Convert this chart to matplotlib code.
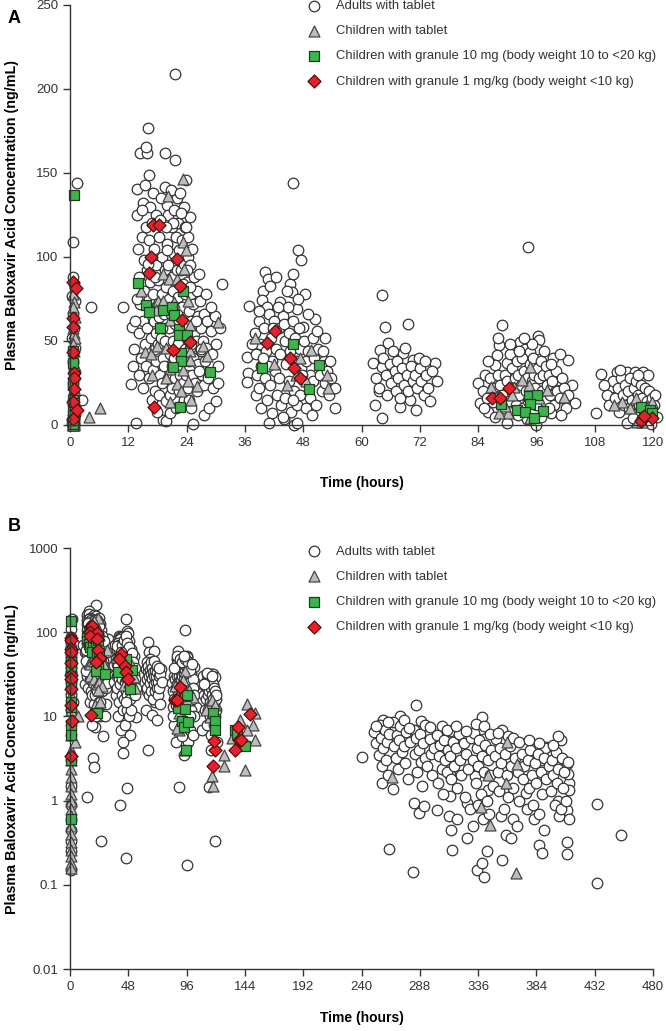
import matplotlib
matplotlib.use("Agg")
import matplotlib.pyplot as plt
from matplotlib.ticker import FixedLocator, NullLocator
import numpy as np

plt.rcParams['font.family'] = ['Liberation Sans', 'DejaVu Sans']

# (time h, plasma baloxavir acid ng/mL)
adult_0h = [(1.5, 143.9), (0.7, 108.9), (0.6, 88), (0.9, 84), (0.5, 77), (1.0, 74), (0.7, 66),
            (0.8, 58), (0.5, 52), (1.1, 46), (0.6, 38), (0.9, 33), (0.7, 25), (2.4, 15), (0.8, 18),
            (0.6, 12), (1.0, 6), (0.5, 3), (0.8, 1.5), (0.6, 0.9), (0.7, 0.6), (0.9, 0.45),
            (0.5, 0.33), (0.8, 0.25), (0.6, 0.15), (4.4, 70)]
adult_day1 = [(21.6, 208.8), (16.0, 177), (14.4, 161.7), (15.9, 161.7), (15.6, 165.7), (19.6, 162),
              (21.6, 158), (16.3, 148.9), (23.9, 146), (13.7, 140.5), (15.5, 143), (19.6, 141.5),
              (22.0, 135), (19.9, 131), (23.5, 130), (24.7, 124), (13.7, 125), (14.8, 112), (31.2, 84),
              (11.0, 70.3), (12.5, 24.3), (12.7, 58.4), (13.6, 1.1), (25.3, 0.33), (19.2, 3.2),
              (19.8, 2.5), (20.6, 7.4), (27.5, 5.8),
              (14.0, 105), (14.2, 88), (14.5, 72), (14.3, 55), (14.6, 40), (14.1, 30), (15.0, 132),
              (15.2, 98), (15.3, 80), (15.1, 62), (15.4, 48), (15.0, 22), (15.7, 118), (15.8, 92),
              (15.9, 58), (15.6, 35), (16.4, 130), (16.2, 110), (16.5, 85), (16.3, 75), (16.6, 52),
              (16.2, 28), (16.8, 15), (17.0, 138), (17.2, 105), (17.1, 78), (17.3, 62), (17.4, 45),
              (17.0, 33), (17.5, 20), (17.8, 125), (17.7, 95), (17.9, 70), (17.6, 55), (17.8, 38),
              (18.3, 112), (18.1, 86), (18.4, 64), (18.2, 48), (18.5, 30), (18.3, 18), (18.8, 135),
              (18.9, 100), (19.0, 78), (18.7, 52), (19.1, 40), (18.9, 25), (19.4, 122), (19.5, 92),
              (19.3, 66), (19.6, 50), (19.4, 35), (19.7, 14), (19.9, 108), (19.8, 82), (20.2, 125),
              (20.1, 95), (20.4, 75), (20.3, 58), (20.5, 42), (20.2, 28), (20.6, 18), (20.9, 118),
              (21.0, 88), (20.8, 66), (21.1, 50), (20.9, 35), (21.0, 22), (21.5, 128), (21.4, 102),
              (21.3, 80), (21.6, 60), (21.4, 40), (21.7, 28), (21.9, 112), (22.0, 92), (21.8, 72),
              (22.2, 120), (22.4, 104), (22.3, 76), (22.5, 62), (22.2, 48), (22.6, 30), (22.4, 20),
              (22.9, 126), (23.0, 110), (22.8, 92), (23.1, 70), (23.0, 55), (22.9, 40), (23.2, 25),
              (23.0, 12), (23.6, 118), (23.5, 96), (23.7, 78), (23.4, 60), (23.6, 45), (23.8, 30),
              (23.5, 15), (24.2, 112), (24.3, 100), (24.1, 85), (24.4, 68), (24.2, 52), (24.5, 38),
              (24.3, 22), (24.8, 95), (24.9, 78), (25.0, 62), (24.7, 46), (25.1, 30), (24.9, 10),
              (25.5, 88), (25.4, 72), (25.6, 55), (25.3, 40), (25.7, 25), (26.1, 80), (26.3, 65),
              (26.0, 50), (26.4, 36), (26.2, 20), (26.8, 74), (27.0, 58), (26.9, 44), (27.2, 30),
              (27.6, 66), (27.4, 50), (27.8, 38), (27.5, 24), (28.2, 62), (28.0, 46), (28.4, 28),
              (28.6, 10), (29.0, 56), (29.2, 42), (29.5, 22), (29.8, 65), (30.1, 48), (30.4, 35),
              (30.0, 14), (30.8, 58), (30.5, 25),
              (13.2, 45), (13.4, 62), (13.8, 75), (13.0, 35), (14.8, 128), (16.9, 120), (18.6, 122),
              (19.0, 58), (20.0, 104), (20.7, 140), (21.2, 120), (22.6, 138), (23.2, 84), (24.0, 92),
              (24.6, 82), (25.9, 62), (25.2, 105), (26.5, 90), (27.0, 45), (29.0, 70), (28.0, 78),
              (18.0, 8), (21.8, 10), (16.0, 96), (17.4, 88), (19.8, 118), (22.0, 66), (23.8, 118),
              (25.0, 48), (26.6, 32), (24.5, 15)]
adult_day2 = [(45.8, 143.9), (47.0, 104), (47.5, 98), (40.1, 91), (40.8, 87), (42.5, 88), (39.7, 80),
              (41.2, 83), (45.3, 84), (45.6, 79), (48.4, 78), (36.9, 70.7), (39.5, 74.6), (40.5, 70),
              (43.2, 73), (46.7, 69), (43.9, 65), (50.4, 63), (48.0, 58.4), (52.5, 52), (36.4, 40.6),
              (36.7, 30.7), (36.5, 25.7), (54.5, 9.9), (41.0, 0.9), (46.2, 0.21), (46.7, 1.4),
              (44.0, 3.7),
              (38.0, 55), (38.3, 42), (38.5, 30), (38.2, 18), (39.0, 62), (39.2, 48), (39.4, 35),
              (39.0, 22), (39.3, 10), (40.0, 58), (40.3, 44), (40.1, 28), (40.5, 15), (41.0, 66),
              (41.3, 52), (41.5, 38), (41.2, 24), (41.6, 7), (42.0, 62), (42.4, 45), (42.2, 32),
              (42.6, 18), (43.0, 58), (43.3, 42), (43.1, 28), (43.5, 12), (44.0, 60), (44.3, 50),
              (44.5, 36), (44.2, 16), (44.8, 70), (45.0, 55), (45.2, 44), (45.0, 26), (45.4, 8),
              (46.0, 62), (46.3, 52), (46.5, 38), (46.2, 20), (46.8, 12), (47.2, 58), (47.4, 45),
              (47.6, 34), (47.3, 18), (48.2, 50), (48.5, 38), (48.3, 26), (48.6, 10), (49.0, 44),
              (49.3, 30), (49.5, 16), (50.0, 52), (50.3, 40), (50.1, 26), (50.6, 12), (51.0, 45),
              (51.5, 30), (51.8, 20), (52.2, 38), (52.5, 25), (53.0, 32), (53.4, 18), (53.8, 28),
              (54.5, 22),
              (37.5, 48), (38.8, 68), (40.8, 35), (42.8, 70), (44.6, 80), (46.0, 90), (47.0, 75),
              (48.9, 66), (50.8, 56), (52.0, 44), (53.6, 38), (49.8, 6), (43.8, 5), (45.8, 15),
              (47.8, 30), (39.8, 40), (41.8, 58)]
adult_day3 = [(64.2, 77.2), (64.8, 58.4), (69.5, 60), (62.4, 37), (64.2, 34.6), (65.5, 48.5),
              (63.8, 44.5), (68.6, 42.6), (70.7, 38.6), (75.1, 37), (64.2, 4), (62.8, 11.9),
              (63.5, 20), (67.9, 10.5), (71.3, 9.1), (70.0, 15),
              (63.0, 28), (63.6, 22), (64.5, 40), (65.0, 30), (65.3, 18), (65.8, 36), (66.0, 25),
              (66.4, 44), (66.8, 32), (67.0, 20), (67.3, 38), (67.6, 28), (68.0, 16), (68.3, 34),
              (68.8, 24), (69.0, 46), (69.3, 30), (69.6, 20), (70.2, 35), (70.5, 26), (71.0, 30),
              (71.5, 22), (72.0, 34), (72.3, 26), (72.8, 18), (73.2, 30), (73.6, 22), (74.0, 14),
              (74.5, 32), (75.5, 26), (71.8, 40), (73.0, 38)]
adult_day4 = [(94.3, 106), (89.0, 59.4), (96.4, 52.8), (96.5, 50.5), (96.1, 45.5), (92.6, 49.5),
              (93.7, 45.5), (91.6, 43.5), (94.7, 43.5), (88.2, 47.5), (87.8, 41.6), (89.9, 36.6),
              (87.5, 35.6), (99.5, 39.6), (102.4, 38.6), (100.5, 26.7), (103.3, 23.8), (104.0, 12.9),
              (84.0, 25), (84.4, 12.9), (87.0, 13.8), (90.0, 1.47), (96.0, 0.17),
              (85.0, 20), (85.5, 30), (85.8, 16), (86.0, 8), (86.5, 28), (87.0, 22), (87.5, 5),
              (88.0, 30), (88.5, 24), (89.0, 18), (89.3, 10), (89.5, 30), (90.0, 26), (90.3, 14),
              (90.6, 42), (91.0, 34), (91.2, 20), (91.5, 28), (91.8, 12), (92.0, 38), (92.3, 30),
              (92.5, 18), (92.8, 24), (93.0, 40), (93.2, 10), (93.5, 32), (93.8, 20), (94.0, 28),
              (94.2, 14), (94.6, 36), (95.0, 26), (95.2, 40), (95.5, 30), (95.8, 22), (96.0, 12),
              (96.3, 34), (96.6, 28), (96.9, 38), (97.1, 20), (97.4, 30), (97.8, 14), (98.0, 35),
              (98.2, 24), (98.6, 30), (98.9, 18), (99.2, 26), (99.6, 12), (100.0, 32), (100.3, 20),
              (100.8, 16), (101.2, 28), (101.6, 22), (102.0, 10), (102.5, 18), (97.0, 5), (94.0, 3.5),
              (92.2, 5.8), (99.0, 7),
              (86.0, 38), (88.0, 52), (90.5, 48), (92.5, 44), (95.0, 48), (97.5, 44), (99.0, 36),
              (100.8, 42), (85.2, 10), (93.5, 52), (98.5, 10), (101.0, 6)]
adult_day5 = [(109.3, 30.3), (111.5, 22.7), (112.5, 31.7), (114.6, 31.7), (116.3, 31.7), (118.0, 31.7),
              (119.0, 29.7), (108.3, 6.9), (114.6, 1.44), (119.6, 0.33),
              (110.5, 18), (111.0, 12), (111.8, 26), (112.2, 16), (112.8, 22), (113.0, 8), (113.4, 28),
              (113.8, 18), (114.0, 12), (114.3, 24), (114.8, 20), (115.0, 10), (115.3, 28), (115.6, 15),
              (116.0, 22), (116.2, 6), (116.6, 26), (116.9, 18), (117.2, 12), (117.5, 24), (117.8, 16),
              (118.2, 8), (118.4, 22), (118.8, 14), (119.2, 20), (119.5, 10), (119.8, 16), (120.2, 12),
              (120.5, 18), (120.8, 5), (110.0, 24), (113.2, 33), (117.0, 30), (115.8, 4)]
adult_late = [(240, 3.28), (284.8, 13.6), (258, 9.2), (271.4, 10.1), (288.7, 8.8), (306.5, 7.7),
              (339.5, 9.8), (356, 6.9), (404, 5.2), (382.7, 4.5), (392, 4.3), (434, 0.91), (453.6, 0.39),
              (262.5, 0.27), (314.8, 0.26), (326.6, 0.95), (335.4, 0.15), (340.6, 0.125), (339, 0.18),
              (343.4, 0.25), (282, 0.144), (356, 0.2), (386.5, 0.3), (388.6, 0.24), (409.5, 0.32),
              (409.5, 0.235), (434, 0.106), (313.7, 0.45), (326.6, 0.36), (359, 0.39), (363, 0.36),
              (390.6, 0.45), (382, 0.6), (364.5, 0.6), (287.5, 0.72), (302, 0.78), (403, 0.65),
              (409, 0.78), (344.5, 1.35), (332, 0.5), (312, 0.65), (319, 0.6), (354.6, 0.65),
              (313, 1.13), (283, 0.95), (291.7, 0.86), (410.6, 1.6), (401.7, 1.0), (375.6, 1.24),
              (370, 1.0), (266, 1.39), (256.8, 1.6), (333.7, 1.95), (312.6, 2.04), (312.6, 6.8),
              (338, 7.1), (361, 5.9), (391, 4.2), (387.6, 3.0), (409, 2.7), (411, 1.35), (409.6, 2.1),
              (250, 6.5), (252, 4.8), (254, 3.5), (255, 8.0), (256, 5.5), (257, 2.6), (258, 4.2),
              (259, 7.0), (260, 3.0), (261, 5.0), (262, 2.0), (263, 6.2), (266, 8.5), (267, 4.5),
              (268, 3.2), (269, 6.0), (270, 2.4), (271, 5.2), (272, 7.6), (273, 3.8), (275, 4.4),
              (276, 2.8), (277, 6.6), (278, 1.8), (280, 5.0), (283, 7.0), (284, 3.6), (285, 5.6),
              (286, 2.2), (287, 4.0), (288, 6.2), (289, 2.9), (290, 1.5), (291, 4.8), (292, 3.2),
              (294, 2.6), (296, 5.4), (297, 3.6), (298, 2.0), (300, 4.2), (302, 6.0), (303, 1.6),
              (304, 3.4), (305, 4.6), (306, 2.4), (307, 1.2), (308, 5.2), (309, 3.0), (310, 2.2),
              (311, 4.0), (313, 3.4), (314, 1.8), (315, 5.0), (316, 2.6), (318, 4.2), (319, 1.4),
              (320, 6.2), (321, 3.0), (322, 2.0), (324, 4.8), (325, 1.1), (326, 3.6), (328, 2.4),
              (329, 0.8), (330, 5.6), (332, 3.0), (333, 6.4), (334, 1.6), (335, 4.2), (336, 2.6),
              (336, 0.9), (337, 5.2), (338, 1.2), (339, 3.4), (340, 0.6), (341, 2.2), (342, 4.6),
              (343, 1.0), (344, 3.0), (345, 0.7), (346, 2.0), (347, 4.0), (348, 1.5), (350, 3.4),
              (351, 5.4), (352, 2.2), (353, 1.3), (354, 4.2), (355, 2.8), (357, 0.8), (358, 3.6),
              (360, 2.0), (361, 1.1), (362, 4.4), (363, 2.6), (365, 1.4), (366, 3.2), (368, 0.5),
              (369, 2.2), (372, 3.6), (373, 1.8), (374, 2.6), (376, 0.8), (377, 3.0), (378, 1.4),
              (379, 4.0), (380, 2.0), (381, 0.9), (383, 2.8), (384, 1.6), (385, 3.6), (386, 0.7),
              (388, 2.2), (389, 1.2), (390, 3.2), (392, 1.8), (394, 2.6), (396, 1.3), (397, 3.0),
              (398, 2.0), (399, 0.9), (400, 3.8), (401, 1.6), (402, 2.4), (404, 0.8), (405, 3.2),
              (406, 1.4), (407, 2.2), (408, 1.0), (410, 2.9), (411, 0.6),
              (252, 7.8), (262, 8.6), (275, 9.0), (279, 7.2), (292, 8.0), (296, 7.4), (310, 7.0),
              (318, 7.8), (326, 6.8), (334, 8.2), (341, 7.6), (346, 6.2), (352, 6.4), (365, 5.6),
              (370, 5.0), (378, 5.2), (386, 4.8), (398, 4.6), (402, 5.8)]

child_tab = [(0.6, 78), (0.9, 73), (0.7, 70), (1.0, 64), (0.6, 58), (0.8, 55), (1.1, 52), (0.7, 48),
             (0.9, 44), (0.6, 40), (1.0, 35), (0.8, 30), (0.7, 26), (0.9, 22), (0.6, 18), (1.0, 14),
             (0.8, 12), (0.7, 9), (0.9, 6), (0.6, 4), (0.8, 3), (0.7, 2.4), (0.9, 1.9), (0.6, 1.5),
             (0.8, 1.2), (0.7, 1.0), (0.9, 0.8), (0.6, 0.65), (0.8, 0.5), (0.7, 0.4), (0.6, 0.32),
             (0.8, 0.26), (0.7, 0.22), (0.6, 0.18), (0.7, 0.16), (4.0, 5), (6.2, 10),
             (23.3, 146.5), (20.1, 136), (14.6, 80), (23.3, 109), (23.8, 104), (23.5, 93), (19.2, 90),
             (20.4, 87), (22.0, 87), (18.2, 74), (19.2, 74), (21.5, 73), (24.2, 74), (17.6, 68.7),
             (20.6, 62.7), (24.6, 59.8), (30.5, 61), (15.4, 43.5), (16.7, 42.5), (18.0, 47), (19.7, 46),
             (24.8, 44), (27.4, 47), (28.1, 41), (24.7, 38.5), (20.6, 33.5), (23.3, 32.7), (16.8, 30),
             (19.8, 27.8), (22.1, 24.4), (24.2, 26), (26.2, 23), (22.8, 20.5), (20.6, 13.5), (25.0, 15),
             (38.1, 51.5), (49.7, 44.5), (47.4, 40), (53.0, 29.7), (44.6, 23.8), (53.2, 21.8),
             (46.5, 30), (42.0, 36), (48.5, 26),
             (86.6, 22.7), (90.1, 6.9), (88.3, 7.3), (91.3, 22.7), (94.7, 34.6), (94.4, 23.8),
             (98.2, 20.8), (101.6, 16.8), (91.0, 17.8), (94.6, 4.0), (96.6, 15.8), (93.0, 27), (89.5, 11),
             (113.6, 13.8), (115.3, 9.9), (116.6, 15.8), (119.7, 13.8), (116.8, 1.95), (117.7, 1.48),
             (112.0, 12), (118.5, 11),
             (145.7, 13.9), (152.6, 11), (151.0, 8), (152.6, 5.3), (145.7, 7), (127.0, 3.5), (126.5, 2.6),
             (144.3, 2.3), (140.0, 9), (133.0, 5.5),
             (265, 1.9), (338, 0.85), (344, 2.0), (346, 0.52), (359, 1.6), (360, 5.0), (368, 2.7),
             (367, 0.14)]

child_gran10 = [(0.8, 137), (0.7, 44), (0.6, 37), (0.8, 30), (0.7, 25), (0.6, 15), (0.8, 13), (0.7, 8),
                (0.6, 6), (0.8, 3), (0.7, 0.6),
                (13.9, 84.7), (15.6, 71.6), (16.3, 67.3), (19.1, 68.7), (21.0, 70.3), (21.5, 65.3),
                (18.5, 58), (22.4, 57), (22.4, 53.4), (24.1, 53.4), (22.8, 42.6), (22.8, 38), (21.3, 34.3),
                (28.8, 31.7), (22.6, 10.9), (23.3, 80),
                (45.8, 48), (39.6, 33.7), (51.3, 35.6), (49.2, 21.2),
                (88.7, 12.5), (94.5, 17.4), (96.2, 17.8), (94.7, 12.3), (92.0, 8.9), (93.7, 7.5),
                (97.4, 8.5), (95.6, 4),
                (117.5, 10.9), (119.4, 8.9), (119.7, 6.9),
                (136.0, 7), (137.5, 6.2), (144.3, 4.5)]

child_gran1 = [(0.7, 85), (1.2, 81.5), (0.7, 63.7), (0.7, 58.4), (0.7, 43.5), (0.8, 30.7), (0.8, 27.8),
               (0.8, 21.4), (0.7, 13.5), (1.4, 8.9), (0.6, 3.4),
               (17.1, 119), (18.4, 119), (16.6, 100), (22.0, 98.6), (16.3, 90.7), (22.6, 82.7),
               (23.1, 62.3), (24.6, 49.5), (21.3, 44.5), (17.3, 10.5),
               (42.2, 55.8), (40.6, 48.5), (45.3, 40), (46.1, 33.7), (47.4, 27.7),
               (86.8, 15.8), (88.5, 15.8), (90.4, 22.1),
               (117.5, 2.6), (119.7, 4.0), (118.2, 5.1),
               (136.0, 4.0), (138.3, 7.5), (138.8, 5.3), (141.0, 5.3), (148.5, 10.6)]

labels = ['Adults with tablet', 'Children with tablet',
          'Children with granule 10 mg (body weight 10 to <20 kg)',
          'Children with granule 1 mg/kg (body weight <10 kg)']

adults = np.array(adult_0h + adult_day1 + adult_day2 + adult_day3 + adult_day4 + adult_day5 + adult_late)
groups = [
    (adults, dict(marker='o', s=58, facecolor='white', edgecolor='#333333')),
    (np.array(child_tab), dict(marker='^', s=62, facecolor='#bdbdbd', edgecolor='#444444')),
    (np.array(child_gran10), dict(marker='s', s=48, facecolor='#3db54a', edgecolor='#1f3d22')),
    (np.array(child_gran1), dict(marker='D', s=44, facecolor='#e8202a', edgecolor='#4a1010')),
]

fig = plt.figure(figsize=(6.66, 10.31), dpi=100)
axA = fig.add_axes([0.1051, 0.5878, 0.8754, 0.4074])
axB = fig.add_axes([0.1051, 0.0601, 0.8754, 0.4083])

for ax, tmax in [(axA, 121), (axB, 480)]:
    for (data, style), lab in zip(groups, labels):
        keep = data[:, 0] <= tmax
        ax.scatter(data[keep, 0], data[keep, 1], linewidths=0.9, clip_on=False, label=lab, **style)
    for side in ['top', 'right']:
        ax.spines[side].set_visible(False)
    for side in ['left', 'bottom']:
        ax.spines[side].set_color('#333333')
        ax.spines[side].set_linewidth(1.0)
    ax.tick_params(direction='out', length=5, width=1, color='#333333', labelcolor='#333333',
                   labelsize=9.5)
    ax.set_ylabel('Plasma Baloxavir Acid Concentration (ng/mL)', fontsize=10.3, fontweight='bold')
    ax.set_xlabel('Time (hours)', fontsize=10, fontweight='bold')
    ax.yaxis.set_label_coords(-0.088, 0.5)

axA.set_xlim(0, 120)
axA.set_ylim(0, 250)
axA.set_xticks(np.arange(0, 121, 12))
axA.set_yticks(np.arange(0, 251, 50))
axA.xaxis.set_label_coords(0.5, -0.122)

axB.set_yscale('log')
axB.set_xlim(0, 480)
axB.set_ylim(0.01, 1000)
axB.set_xticks(np.arange(0, 481, 48))
axB.yaxis.set_major_locator(FixedLocator([0.01, 0.1, 1, 10, 100, 1000]))
axB.yaxis.set_minor_locator(NullLocator())
axB.set_yticklabels(['0.01', '0.1', '1', '10', '100', '1000'])
axB.xaxis.set_label_coords(0.5, -0.1)

for ax, top in [(axA, 1.012), (axB, 1.006)]:
    ax.legend(loc='upper left', bbox_to_anchor=(0.408, top), frameon=False, fontsize=9.4,
              handlelength=0.9, handletextpad=1.25, labelspacing=1.0, borderpad=0,
              borderaxespad=0, labelcolor='#333333')

fig.text(0.012, 0.982, 'A', fontsize=13, fontweight='bold', va='center')
fig.text(0.012, 0.489, 'B', fontsize=13, fontweight='bold', va='center')

fig.savefig('out.png', dpi=100)
